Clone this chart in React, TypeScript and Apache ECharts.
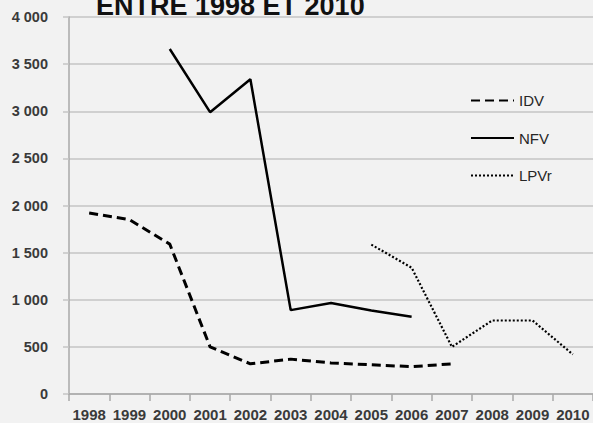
import React, { useEffect, useRef } from "react";
import * as echarts from "echarts";

const years = ["1998", "1999", "2000", "2001", "2002", "2003", "2004", "2005", "2006", "2007", "2008", "2009", "2010"];
const idv = [1920, 1850, 1590, 500, 320, 370, 330, 310, 290, 320, null, null, null];
const nfv = [null, null, 3660, 2990, 3340, 890, 965, 885, 820, null, null, null, null];
const lpvr = [null, null, null, null, null, null, null, 1585, 1340, 500, 780, 780, 420];
const titleText = "ENTRE 1998 ET 2010";

const FONT = "'Liberation Sans', Arial, Helvetica, sans-serif";

export default function App() {
  const ref = useRef<HTMLDivElement>(null);
  useEffect(() => {
    if (!ref.current) return;
    const chart = echarts.init(ref.current, null, { renderer: "svg" });
    const fmt = (v: number) => {
      const s = String(Math.round(v));
      return s.length > 3 ? s.slice(0, s.length - 3) + " " + s.slice(-3) : s;
    };
    chart.setOption({
      animation: false,
      backgroundColor: "#f2f2f2",
      textStyle: { fontFamily: FONT },
      grid: { left: 69, right: 0, top: 17, bottom: 29, containLabel: false },
      legend: {
        data: ["IDV", "NFV", "LPVr"],
        orient: "vertical",
        left: 470,
        top: 93,
        padding: 0,
        itemWidth: 43,
        itemHeight: 14,
        itemGap: 22.5,
        itemStyle: { opacity: 0 },
        textStyle: { fontSize: 15, color: "#262626", fontFamily: FONT, padding: [0, 0, 0, 0] },
      },
      xAxis: {
        type: "category",
        data: years,
        boundaryGap: true,
        axisLine: { show: true, lineStyle: { color: "#a8a8a8", width: 1.5 } },
        axisTick: { show: true, length: 7, interval: 0, lineStyle: { color: "#a8a8a8", width: 1.5 } },
        axisLabel: {
          interval: 0,
          margin: 13,
          fontSize: 15,
          fontWeight: "bold",
          color: "#3a3a3a",
          fontFamily: FONT,
        },
      },
      yAxis: {
        type: "value",
        min: 0,
        max: 4000,
        interval: 500,
        axisLine: { show: true, lineStyle: { color: "#a8a8a8", width: 1.5 } },
        axisTick: { show: true, length: 6, lineStyle: { color: "#c4c4c4", width: 1.5 } },
        splitLine: { show: true, lineStyle: { color: "#c4c4c4", width: 1.5 } },
        axisLabel: {
          margin: 21,
          fontSize: 14.5,
          fontWeight: "bold",
          color: "#3a3a3a",
          fontFamily: FONT,
          formatter: fmt,
        },
      },
      graphic: [
        {
          type: "text",
          x: 96,
          y: 5.6,
          style: {
            text: titleText,
            font: "bold 27px 'Liberation Sans', Arial, sans-serif",
            fill: "#111111",
            verticalAlign: "middle",
            align: "left",
          },
          z: 10,
        },
      ],
      series: [
        {
          name: "IDV",
          type: "line",
          data: idv,
          symbol: "none",
          connectNulls: false,
          lineStyle: { color: "#000000", width: 3, type: [9, 5], cap: "butt" },
          itemStyle: { color: "#000000" },
        },
        {
          name: "NFV",
          type: "line",
          data: nfv,
          symbol: "none",
          connectNulls: false,
          lineStyle: { color: "#000000", width: 2.5, type: "solid" },
          itemStyle: { color: "#000000" },
        },
        {
          name: "LPVr",
          type: "line",
          data: lpvr,
          symbol: "none",
          connectNulls: false,
          lineStyle: { color: "#000000", width: 2.2, type: [2, 2], cap: "butt" },
          itemStyle: { color: "#000000" },
        },
      ],
    });
    return () => chart.dispose();
  }, []);
  return (
    <div
      ref={ref}
      style={{ position: "absolute", left: 0, top: 0, width: 593, height: 423, background: "#f2f2f2" }}
    />
  );
}
